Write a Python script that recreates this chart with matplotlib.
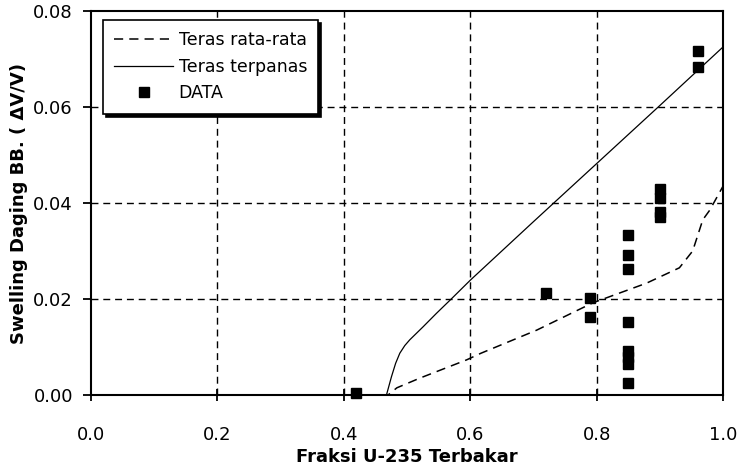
import matplotlib
matplotlib.use("Agg")
import matplotlib.pyplot as plt

# ─── Data ─────────────────────────────────────────────────────────────────────

# Teras rata-rata (dashed)
avg_x = [0.0, 0.47, 0.484, 0.52, 0.594, 0.617, 0.705, 0.794, 0.879, 0.931, 0.952, 0.968, 0.979, 1.0]
avg_y = [0.0, 0.0, 0.0015, 0.0035, 0.0073, 0.0087, 0.0135, 0.0192, 0.0233, 0.0265, 0.030, 0.0365, 0.0385, 0.0435]

# Teras terpanas (solid)
hot_x = [0.0, 0.4675, 0.4754, 0.482, 0.4886, 0.4965, 0.5044, 0.5254, 0.5465, 0.57, 0.60, 0.70, 0.80, 0.90, 1.0]
hot_y = [0.0, 0.0, 0.0038, 0.0066, 0.0087, 0.0103, 0.0115, 0.0142, 0.0170, 0.0200, 0.0239, 0.0361, 0.0482, 0.0603, 0.0725]

# DATA (measured)
data_x = [0.42, 0.72, 0.79, 0.79,
          0.85, 0.85, 0.85, 0.85, 0.85, 0.85, 0.85, 0.85,
          0.90, 0.90, 0.90, 0.90, 0.96, 0.96]
data_y = [0.0004, 0.0212, 0.0202, 0.0162,
          0.0333, 0.0292, 0.0263, 0.0152, 0.0092, 0.0079, 0.0065, 0.0025,
          0.0429, 0.0410, 0.0381, 0.0371, 0.0716, 0.0683]

x_ticks = [0.0, 0.2, 0.4, 0.6, 0.8, 1.0]
y_ticks = [0.00, 0.02, 0.04, 0.06, 0.08]

# ─── Plot ─────────────────────────────────────────────────────────────────────

plt.rcParams["font.family"] = ["DejaVu Sans"]

fig = plt.figure(figsize=(7.39, 4.70), dpi=100)
ax = fig.add_axes([91 / 739, 75 / 470, 632 / 739, 384 / 470])

# grid first so curves sit on top
for gx in x_ticks[1:-1]:
    ax.axvline(gx, color="black", linewidth=1.0, linestyle=(0, (5, 3.5)), zorder=1)
for gy in y_ticks[1:-1]:
    ax.axhline(gy, color="black", linewidth=1.0, linestyle=(0, (5, 3.5)), zorder=1)

ax.plot(avg_x, avg_y, color="black", linewidth=1.1, linestyle=(0, (6, 4)),
        label="Teras rata-rata", zorder=3)
ax.plot(hot_x, hot_y, color="black", linewidth=0.9, label="Teras terpanas", zorder=3)
ax.plot(data_x, data_y, linestyle="none", marker="s", markersize=7,
        color="black", label="DATA", zorder=4, clip_on=False)

ax.set_xlim(0, 1.0)
ax.set_ylim(0, 0.08)
ax.set_xticks(x_ticks)
ax.set_yticks(y_ticks)
ax.set_xticklabels([f"{v:.1f}" for v in x_ticks])
ax.set_yticklabels([f"{v:.2f}" for v in y_ticks])
ax.tick_params(axis="x", direction="inout", length=9, width=1.3, pad=18, labelsize=13)
ax.tick_params(axis="y", direction="out", length=6, width=1.3, pad=7, labelsize=13)

for s in ax.spines.values():
    s.set_linewidth(1.5)

ax.set_xlabel("Fraksi U-235 Terbakar", fontsize=13, fontweight="bold", labelpad=3)
ax.set_ylabel("Swelling Daging BB. ( ΔV/V)", fontsize=13, fontweight="bold", labelpad=4)

leg = ax.legend(loc="upper left", bbox_to_anchor=(0.019, 0.977), fontsize=12.5,
                frameon=True, fancybox=False, edgecolor="black", framealpha=1,
                shadow={"color": "black", "alpha": 1}, handlelength=3.4,
                numpoints=1, borderpad=0.65, labelspacing=0.5, handletextpad=0.3,
                borderaxespad=0)
leg.get_frame().set_linewidth(1.2)

fig.savefig("out.png", dpi=100)
